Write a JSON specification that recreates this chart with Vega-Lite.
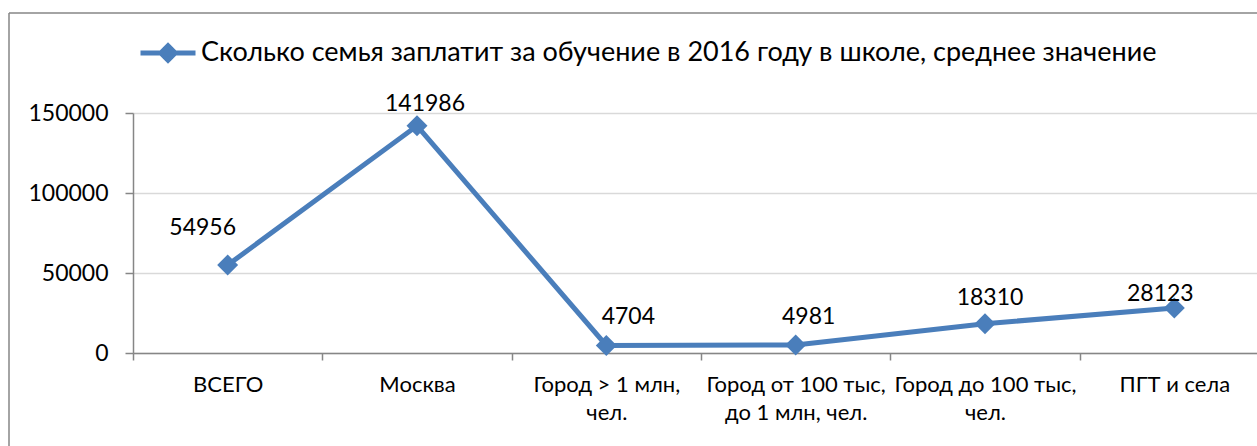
{
  "$schema": "https://vega.github.io/schema/vega-lite/v6.json",
  "autosize": {"type": "none"},
  "width": 1248,
  "height": 433,
  "padding": {"left": 9, "top": 13, "right": 0, "bottom": 0},
  "background": "white",
  "config": {
    "view": {"stroke": "#868686", "strokeWidth": 1.5, "strokeDash": [1248, 1681, 433, 0]},
    "font": "Lato"
  },
  "data": {
    "values": [
      {"cat": "ВСЕГО", "value": 54956},
      {"cat": "Москва", "value": 141986},
      {"cat": "Город > 1 млн,\nчел.", "value": 4704},
      {"cat": "Город от 100 тыс,\nдо 1 млн, чел.", "value": 4981},
      {"cat": "Город до 100 тыс,\nчел.", "value": 18310},
      {"cat": "ПГТ и села", "value": 28123}
    ]
  },
  "encoding": {
    "x": {
      "field": "cat",
      "type": "nominal",
      "sort": null,
      "scale": {"type": "band", "range": [124, 1260], "paddingInner": 0, "paddingOuter": 0},
      "axis": {
        "title": null,
        "offset": -93,
        "tickBand": "extent",
        "labelAngle": 0,
        "labelExpr": "datum.value == null ? '' : split(datum.value, '\\n')",
        "labelFontSize": 22,
        "labelFont": "Lato",
        "labelColor": "black",
        "labelLineHeight": 28,
        "labelPadding": 14,
        "labelLimit": 0,
        "labelOverlap": false,
        "tickSize": 7,
        "tickColor": "#868686",
        "domainColor": "#868686",
        "domainWidth": 1.5,
        "tickWidth": 1.5,
        "grid": false
      }
    },
    "y": {
      "field": "value",
      "type": "quantitative",
      "scale": {"domain": [0, 150000], "range": [340, 100], "nice": false, "zero": true},
      "axis": {
        "title": null,
        "offset": -124,
        "values": [0, 50000, 100000, 150000],
        "format": "d",
        "labelFontSize": 23,
        "labelFont": "Lato",
        "labelColor": "black",
        "labelPadding": 17,
        "tickSize": 8,
        "tickColor": "#868686",
        "tickWidth": 1.5,
        "domainColor": "#868686",
        "domainWidth": 1.5,
        "grid": true,
        "gridColor": "#d9d9d9",
        "gridWidth": 1.5
      }
    }
  },
  "layer": [
    {
      "mark": {
        "type": "line",
        "strokeWidth": 5,
        "point": {"shape": "diamond", "size": 440, "filled": true, "color": "#4A7EBB", "opacity": 1}
      },
      "encoding": {
        "color": {
          "datum": "Сколько семья заплатит за обучение в 2016 году в школе, среднее значение",
          "type": "nominal",
          "scale": {"range": ["#4A7EBB"]},
          "legend": {
            "title": null,
            "orient": "none",
            "legendX": 129,
            "legendY": 10,
            "padding": 0,
            "symbolType": "M-1,0L1,0M0,-0.26L0.26,0L0,0.26L-0.26,0Z",
            "symbolSize": 3025,
            "symbolStrokeWidth": 5,
            "symbolFillColor": "#4A7EBB",
            "symbolStrokeColor": "#4A7EBB",
            "symbolOpacity": 1,
            "labelFontSize": 27,
            "labelFont": "Lato",
            "labelColor": "black",
            "labelLimit": 2000,
            "labelOffset": 3
          }
        }
      }
    },
    {
      "transform": [{"filter": "datum.value === 54956"}],
      "mark": {"type": "text", "fontSize": 23, "font": "Lato", "color": "black", "dx": -25, "dy": -37},
      "encoding": {"text": {"field": "value", "type": "quantitative", "format": "d"}}
    },
    {
      "transform": [{"filter": "datum.value === 141986"}],
      "mark": {"type": "text", "fontSize": 23, "font": "Lato", "color": "black", "dx": 8, "dy": -22},
      "encoding": {"text": {"field": "value", "type": "quantitative", "format": "d"}}
    },
    {
      "transform": [{"filter": "datum.value === 4704"}],
      "mark": {"type": "text", "fontSize": 23, "font": "Lato", "color": "black", "dx": 22, "dy": -28},
      "encoding": {"text": {"field": "value", "type": "quantitative", "format": "d"}}
    },
    {
      "transform": [{"filter": "datum.value === 4981"}],
      "mark": {"type": "text", "fontSize": 23, "font": "Lato", "color": "black", "dx": 13, "dy": -28},
      "encoding": {"text": {"field": "value", "type": "quantitative", "format": "d"}}
    },
    {
      "transform": [{"filter": "datum.value === 18310"}],
      "mark": {"type": "text", "fontSize": 23, "font": "Lato", "color": "black", "dx": 5, "dy": -26},
      "encoding": {"text": {"field": "value", "type": "quantitative", "format": "d"}}
    },
    {
      "transform": [{"filter": "datum.value === 28123"}],
      "mark": {"type": "text", "fontSize": 23, "font": "Lato", "color": "black", "dx": -14, "dy": -14},
      "encoding": {"text": {"field": "value", "type": "quantitative", "format": "d"}}
    }
  ]
}
